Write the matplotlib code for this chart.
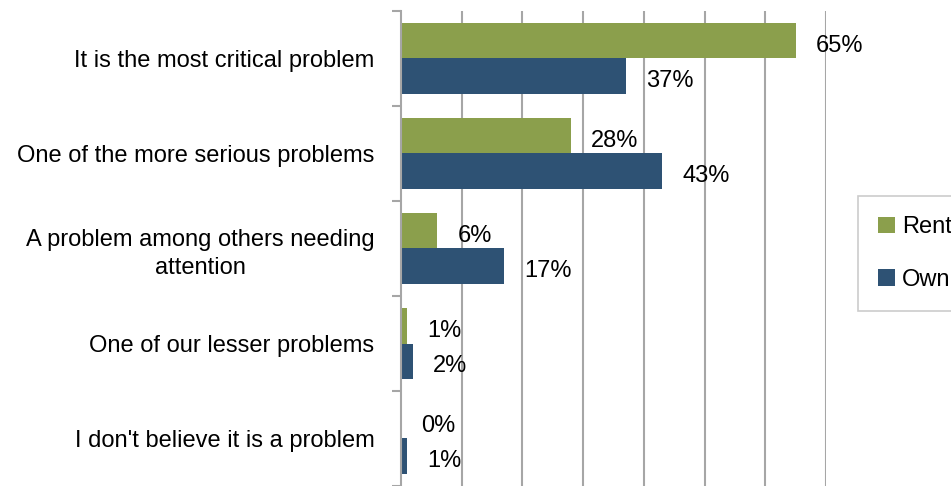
import matplotlib.pyplot as plt
import numpy as np

categories = [
    "It is the most critical problem",
    "One of the more serious problems",
    "A problem among others needing\nattention",
    "One of our lesser problems",
    "I don't believe it is a problem",
]
rent = [65, 28, 6, 1, 0]
own = [37, 43, 17, 2, 1]

GREEN = "#8B9F4C"
BLUE = "#2E5274"
GRID = "#A6A6A6"
FS = 17

plt.rcParams['font.family'] = ['Liberation Sans', 'DejaVu Sans']

fig = plt.figure(figsize=(9.51, 4.86), dpi=100)
ax = fig.add_axes([401 / 951, 0.0, (826 - 401) / 951, 1 - 11 / 486])

y = np.arange(len(categories))
h = 0.37
b1 = ax.barh(y - h / 2, rent, height=h, color=GREEN, label="Rent")
b2 = ax.barh(y + h / 2, own, height=h, color=BLUE, label="Own")

# percentage labels to the right of each bar
for bars, vals in ((b1, rent), (b2, own)):
    for bar, v in zip(bars, vals):
        ax.annotate(f"{v}%", (bar.get_width(), bar.get_y() + bar.get_height() / 2),
                    xytext=(14.5, -3.5), textcoords="offset points",
                    ha="left", va="center", fontsize=FS)

ax.set_xlim(0, 70)
ax.set_ylim(len(categories) - 0.5, -0.5)
ax.set_xticks(np.arange(10, 71, 10))
ax.tick_params(axis="x", length=0, labelbottom=False)
ax.grid(axis="x", color=GRID, linewidth=1.5)
ax.set_axisbelow(True)

ax.set_yticks(y)
ax.set_yticklabels(categories, fontsize=FS, multialignment="center", linespacing=1.35)
ax.set_yticks(np.arange(-0.5, len(categories), 1), minor=True)
ax.tick_params(axis="y", which="major", length=0, pad=19)
ax.tick_params(axis="y", which="minor", length=6.5, width=1.5, color=GRID)

for s in ("top", "right", "bottom"):
    ax.spines[s].set_visible(False)
ax.spines["left"].set_color(GRID)
ax.spines["left"].set_linewidth(1.5)

leg = fig.legend(loc="upper left", bbox_to_anchor=(858 / 951, 1 - 196 / 486),
                 fontsize=FS, frameon=True, fancybox=False, edgecolor="#BFBFBF",
                 handlelength=0.7, handleheight=0.7, handletextpad=0.3,
                 labelspacing=1.3, borderpad=0.85, borderaxespad=0)
leg.get_frame().set_linewidth(1.2)

fig.savefig("out.png", dpi=100)
